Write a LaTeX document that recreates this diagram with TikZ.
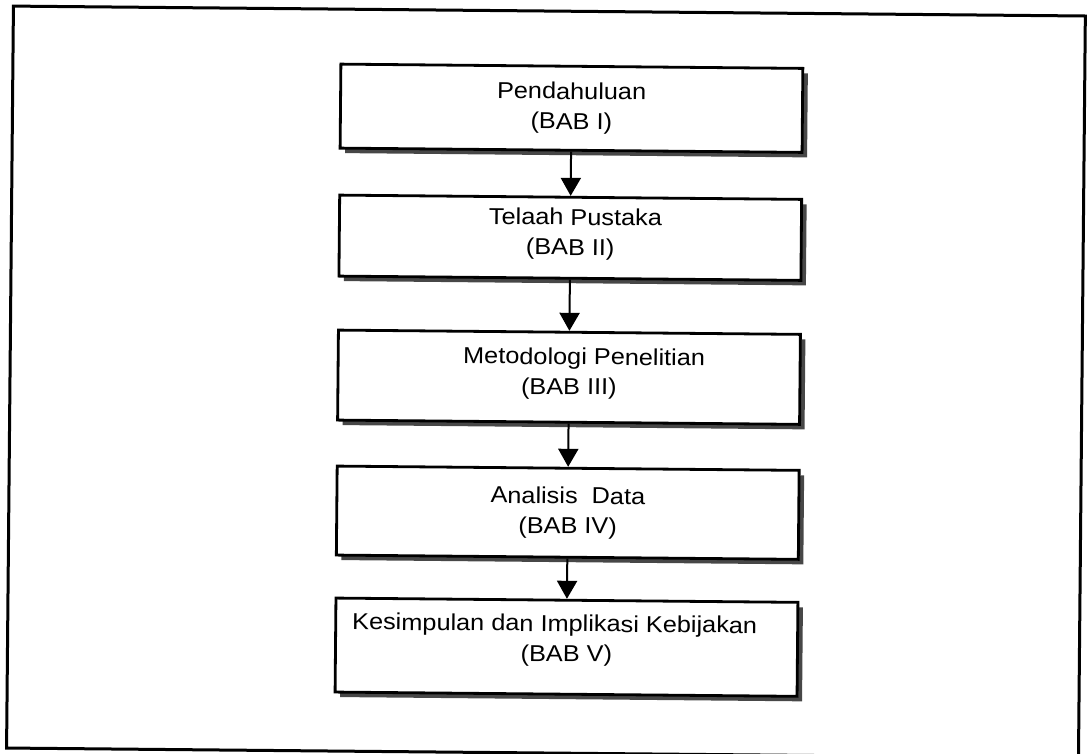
\documentclass[tikz,border=0pt]{standalone}
\usepackage{fontspec}
\setmainfont{Liberation Sans}[FakeStretch=1.1]
\usetikzlibrary{arrows.meta,shadows}

\tikzset{
  outerframe/.style={draw=black, line width=3pt},
  babbox/.style={draw=black, line width=2.8pt, fill=white,
    minimum width=462pt, align=center, inner sep=0pt,
    font=\fontsize{23}{30}\selectfont,
    drop shadow={shadow xshift=5pt, shadow yshift=-5pt, fill=black!72, opacity=1}},
  flow/.style={line width=2pt, -{Triangle[width=20pt,length=18pt]}}
}

\begin{document}
\begin{tikzpicture}[x=1pt, y=-1pt]
  \useasboundingbox[fill=white] (0,0) rectangle (1088,754);
  \begin{scope}[rotate around={-0.53:(544,377)}, transform shape]
    % page frame
    \draw[outerframe] (10,11) rectangle (1082,753);

    % chapter boxes
    \node[babbox, minimum height=84pt] (b1) at (569,108)
      {Pendahuluan\\(BAB I)};
    \node[babbox, minimum height=81pt] (b2) at (569,237.5)
      {\hspace*{10pt}Telaah Pustaka\\(BAB II)\rule[-12pt]{0pt}{0pt}};
    \node[babbox, minimum height=90pt] (b3) at (569,377)
      {\hspace*{30pt}Metodologi Penelitian\\(BAB III)\rule[-12pt]{0pt}{0pt}};
    \node[babbox, minimum height=89pt] (b4) at (569,512.5)
      {Analisis\ \ Data\\(BAB IV)};
    \node[babbox, minimum height=94pt] (b5) at (569,647)
      {Kesimpulan dan Implikasi Kebijakan\hspace*{24pt}\\(BAB V)\rule[-18pt]{0pt}{0pt}};

    % flow between chapters
    \draw[flow] (b1) -- (b2);
    \draw[flow] (b2) -- (b3);
    \draw[flow] (b3) -- (b4);
    \draw[flow] (b4) -- (b5);
  \end{scope}
\end{tikzpicture}
\end{document}
